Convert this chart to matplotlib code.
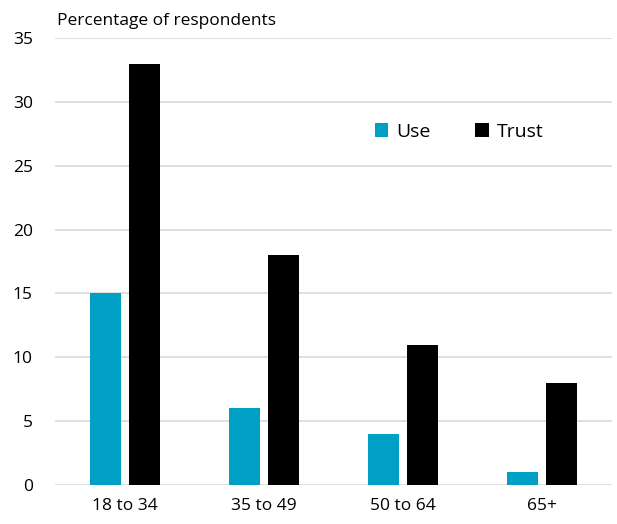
import numpy as np
import matplotlib.pyplot as plt

categories = ['18 to 34', '35 to 49', '50 to 64', '65+']
use = [15, 6, 4, 1]
trust = [33, 18, 11, 8]

plt.rcParams['font.family'] = ['Open Sans', 'DejaVu Sans']

fig = plt.figure(figsize=(6.17, 5.24), dpi=100)
ax = fig.add_axes([0.089, 0.0744, 0.903, 0.853])

x = np.arange(len(categories))
w = 0.223
ax.bar(x - 0.14, use, w, color='#00A0C6', label='Use', zorder=3)
ax.bar(x + 0.14, trust, w, color='#000000', label='Trust', zorder=3)

ax.set_xlim(-0.5, len(categories) - 0.5)
ax.set_ylim(0, 35)
ax.set_yticks(range(0, 36, 5))
ax.set_xticks(x)
ax.set_xticklabels(categories)
ax.yaxis.grid(True, color='#D9D9D9', linewidth=1.2, zorder=0)
for s in ax.spines.values():
    s.set_visible(False)
ax.tick_params(length=0, labelsize=12.5, colors='black')
ax.tick_params(axis='x', pad=9)
ax.tick_params(axis='y', pad=16)

fig.text(0.092, 0.952, 'Percentage of respondents', fontsize=12.5)

ax.legend(loc='center', bbox_to_anchor=(0.725, 0.79), ncol=2, frameon=False,
          fontsize=14, handlelength=0.7, handleheight=0.7, columnspacing=2.3,
          handletextpad=0.4)

fig.savefig('out.png', dpi=100)
